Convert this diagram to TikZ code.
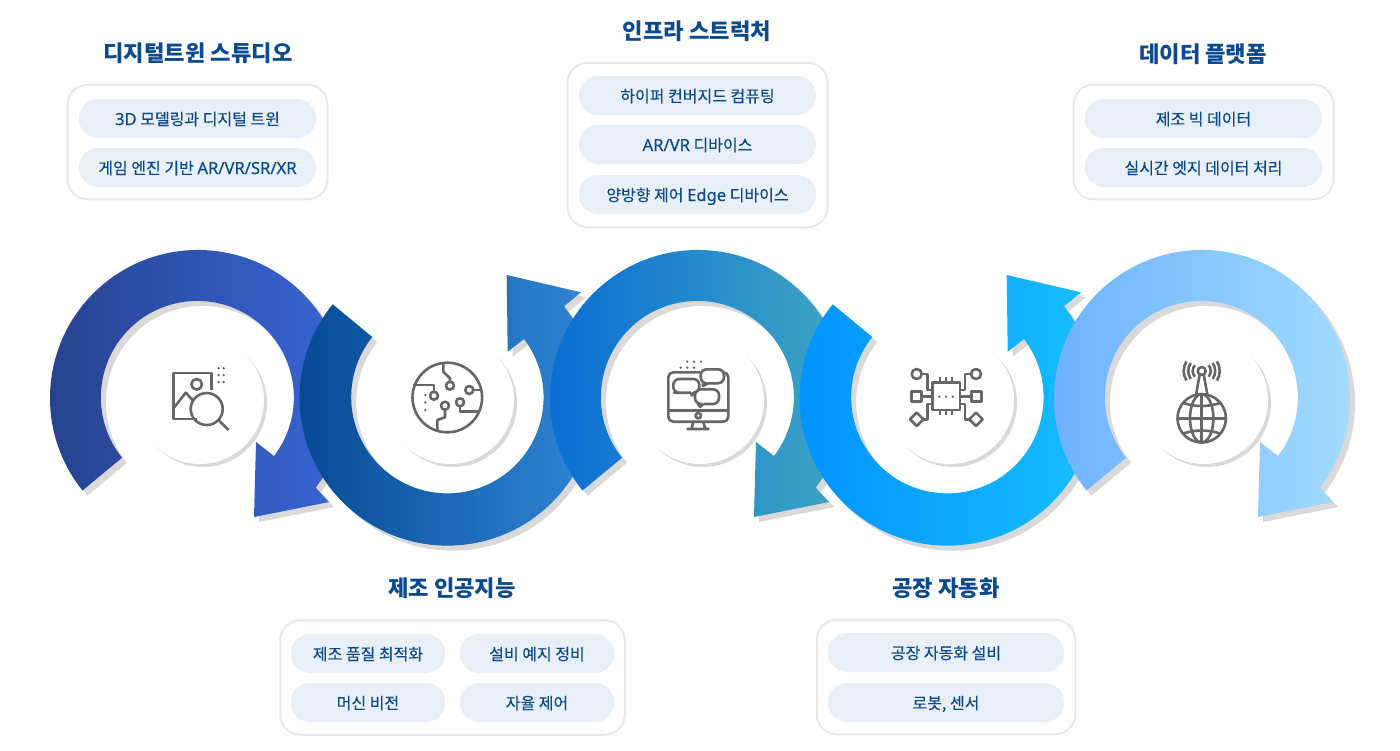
\documentclass[tikz,border=0pt]{standalone}
\usepackage{fontspec}
\setmainfont{Noto Sans CJK KR}
\newfontfamily\pillfont[FakeBold=0.25]{Noto Sans CJK KR}
\newfontfamily\latinfont[FakeBold=0.2]{Noto Sans}
\newcommand{\lat}[1]{{\latinfont\fontsize{16.6}{16}\selectfont #1}}
\definecolor{navy}{HTML}{0B4A8F}
\definecolor{pillc}{HTML}{E9EFF6}
\definecolor{cardb}{HTML}{E9E9E9}
\definecolor{shad}{HTML}{D9D9D9}
\definecolor{iconc}{HTML}{666666}
\tikzset{
  cardbox/.style={draw=cardb,line width=2pt,fill=white,rounded corners=20pt,minimum width=#1,minimum height=114.5pt,inner sep=0pt},
  pillbox/.style={fill=pillc,rounded corners=19pt,minimum height=39pt,minimum width=#1,inner sep=0pt,text=navy,font=\fontsize{16}{16}\pillfont,text height=15.5pt,text depth=2.5pt},
  titlebox/.style={text=navy,font=\fontsize{22.2}{22}\selectfont\bfseries,inner sep=0pt,text height=20pt,text depth=3pt},
  icon/.style={draw=iconc,line width=2.6pt,line join=round},
  dotf/.style={fill=iconc,draw=none},
  halo/.style={fill=shad,draw=none},
  disk/.style={fill=white,draw=none}
}
\newcommand{\pathA}{(82.5,490.5) arc[start angle=141.3,end angle=397.3,radius=148] -- (329,502) -- (254,517) -- (256,442) -- (274,456) arc[start angle=397.4,end angle=141.3,radius=96.5] -- cycle}
\newcommand{\pathB}{(332.7,304.3) arc[start angle=219.1,end angle=-38.1,radius=148] -- (581,292.3) -- (506.7,275) -- (507.7,351.7) -- (524,339) arc[start angle=-37.2,end angle=218.7,radius=96.2] -- cycle}
\newcommand{\ringA}[3]{%
  \fill[shad,shift={(#1+5,5)}] \pathA;
  \shade[shift={(#1,0)},left color=#2,right color=#3] \pathA;}
\newcommand{\ringB}[3]{%
  \fill[shad,shift={(#1+5,5)}] \pathB;
  \shade[shift={(#1,0)},left color=#2,right color=#3] \pathB;}
\newcommand{\diskat}[2]{%
  \fill[halo] (#1+3,#2+3) circle[radius=64];
  \fill[disk] (#1,#2) circle[radius=64];}
\definecolor{ra}{HTML}{25408A}\definecolor{rb}{HTML}{3A67D8}
\definecolor{rc}{HTML}{03468F}\definecolor{rd}{HTML}{3389D8}
\definecolor{re}{HTML}{066AD6}\definecolor{rf}{HTML}{42A8C2}
\definecolor{rg}{HTML}{0090FF}\definecolor{rh}{HTML}{19C0FF}
\definecolor{ri}{HTML}{6BB0FF}\definecolor{rj}{HTML}{A3DCFF}
\begin{document}
\begin{tikzpicture}[x=1pt,y=-1pt]
\useasboundingbox (0,0) rectangle (1400,750);
\fill[white] (0,0) rectangle (1400,750);
% disks
\diskat{200}{400}\diskat{450}{400}\diskat{700}{400}\diskat{950}{400}\diskat{1204}{400}
% rings
\ringA{0}{ra}{rb}
\ringB{0}{rc}{rd}
\ringA{500}{re}{rf}
\ringB{500}{rg}{rh}
\ringA{1004}{ri}{rj}
% icon 1
\draw[icon] (211.7,390) -- (211.7,373) -- (173.7,373) -- (173.7,419) -- (197,419);
\draw[icon] (196.7,384.3) circle[radius=5.3];
\draw[icon] (173.7,408) -- (185.7,392.7) -- (192.7,400);
\draw[icon] (206.7,409) circle[radius=16];
\draw[icon] (218.3,420) -- (228.7,430);
\foreach \x in {218.7,223.7}\foreach \y in {368.3,375,382}\fill[dotf] (\x,\y) circle[radius=1.3];
% icon 2
\draw[icon] (447.3,397.5) circle[radius=34.8];
\draw[icon] (443.3,363.3) -- (443.3,371.7) -- (450,378.3) -- (450,381.7);
\draw[icon] (450,385.7) circle[radius=4];
\draw[icon] (413.3,385) -- (434,385) -- (434,391.7);
\draw[icon] (434,395.7) circle[radius=4];
\draw[icon] (469.3,390) circle[radius=4];
\draw[icon] (473.3,390) -- (481.7,390);
\draw[icon] (445,405.7) circle[radius=4];
\draw[icon] (445,409.7) -- (445,417.3) -- (437.3,420) -- (437.3,430.7);
\draw[icon] (460,402.3) circle[radius=4];
\draw[icon] (460,406.3) -- (460,411.7) -- (478.3,411.7);
\foreach \y in {395,402.3,410}\fill[dotf] (425.3,\y) circle[radius=1.3];
% icon 3
\draw[icon] (700,372.3) -- (673.3,372.3) arc[start angle=270,end angle=180,radius=5] -- (668.3,416.7) arc[start angle=180,end angle=90,radius=5] -- (723.3,421.7) arc[start angle=90,end angle=0,radius=5] -- (728.3,377.3) arc[start angle=0,end angle=-90,radius=5];
\draw[icon] (668.3,410.7) -- (728.3,410.7);
\draw[icon] (698.3,415.7) circle[radius=2.7];
\draw[icon] (693.3,421.7) -- (691.5,429) (703.3,421.7) -- (705.1,429) (686.7,429) -- (709.3,429);
\draw[icon,rounded corners=6pt] (691,392.7) -- (680,392.7) -- (673.3,392.7) -- (673.3,379) -- (699.3,379) -- (699.3,392.7) -- (695,392.7);
\draw[icon] (691,392.7) -- (691.7,395.5) -- (695,392.7);
\draw[icon,rounded corners=6pt] (708,383.3) -- (724,383.3) -- (724,369.3) -- (700.7,369.3) -- (700.7,383.3) -- (703,383.3);
\draw[icon] (703,383.3) -- (703,386) -- (708,383.3);
\draw[icon,rounded corners=6pt] (703.5,404) -- (719,404) -- (719,389.3) -- (695,389.3) -- (695,404) -- (698,404);
\draw[icon] (698,404) -- (700,406.7) -- (703.5,404);
\foreach \p in {(687.3,361.7),(694,361.7),(701,361.7),(680.7,367.7),(687.3,367.7),(694,367.7)}\fill[dotf] \p circle[radius=1.3];
% icon 4
\draw[icon] (932.7,382.7) rectangle (960,410);
\foreach \x in {940,946,952}\draw[icon] (\x,377.3) -- (\x,382.7) (\x,410) -- (\x,415.3);
\draw[icon] (911.7,391.7) rectangle (921.7,401.7);
\draw[icon] (971.7,391.7) rectangle (981.3,401.7);
\draw[icon] (921.7,396.7) -- (932.7,396.7) (960,396.7) -- (971.7,396.7);
\draw[icon] (916.7,374) circle[radius=5];
\draw[icon] (976,374) circle[radius=5];
\draw[icon] (921.7,374) -- (927.3,374) -- (927.3,390) -- (932.7,390);
\draw[icon] (971,374) -- (965,374) -- (965,390) -- (960,390);
\draw[icon] (916.7,412.6) -- (923.4,419.3) -- (916.7,426) -- (910,419.3) -- cycle;
\draw[icon] (976,412.6) -- (982.7,419.3) -- (976,426) -- (969.3,419.3) -- cycle;
\draw[icon] (923.3,419.3) -- (927.3,419.3) -- (927.3,404) -- (932.7,404);
\draw[icon] (969.3,419.3) -- (965,419.3) -- (965,404) -- (960,404);
\foreach \x in {939.3,946,952.7}\fill[dotf] (\x,396.7) circle[radius=1.3];
% icon 5
\draw[icon] (1201.7,418.3) circle[radius=24.2];
\draw[icon] (1201.7,418.3) ellipse[x radius=11.7,y radius=24.2];
\draw[icon] (1201.7,394.1) -- (1201.7,442.5) (1177.5,418.3) -- (1225.9,418.3);
\draw[icon] (1183.5,403) .. controls (1195,407) and (1208,407) .. (1220,403);
\draw[icon] (1183.5,433.5) .. controls (1195,429.5) and (1208,429.5) .. (1220,433.5);
\draw[icon] (1201.7,371) circle[radius=4];
\draw[icon] (1199.6,375) -- (1196,395) (1203.8,375) -- (1207.4,395);
\foreach \r/\a in {9/40,13.5/36,18/32}{
  \draw[icon] (1201.7,371) ++(180+\a:\r) arc[start angle=180+\a,end angle=180-\a,radius=\r];
  \draw[icon] (1201.7,371) ++(-\a:\r) arc[start angle=-\a,end angle=\a,radius=\r];
}
% cards
\node[cardbox=260pt] (card1) at (197.5,142) {};
\node[cardbox=260pt,minimum height=164.5pt] (card2) at (697.5,145) {};
\node[cardbox=260pt] (card3) at (1203.5,142) {};
\node[cardbox=344.5pt] (card4) at (452.5,677.5) {};
\node[cardbox=258.5pt] (card5) at (946,677) {};
% titles
\node[titlebox] (t1) at (198,53) {디지털트윈 스튜디오};
\node[titlebox] (t2) at (697,31) {인프라 스트럭처};
\node[titlebox] (t3) at (1203,54) {데이터 플랫폼};
\node[titlebox] (t4) at (452,588) {제조 인공지능};
\node[titlebox] (t5) at (946,588) {공장 자동화};
% pills
\node[pillbox=237pt] (p11) at (197.5,118.5) {\lat{3D} 모델링과 디지털 트윈};
\node[pillbox=237pt] (p12) at (197.5,167.5) {게임 엔진 기반 \lat{AR/VR/SR/XR}};
\node[pillbox=237pt] (p21) at (697.5,95.5) {하이퍼 컨버지드 컴퓨팅};
\node[pillbox=237pt] (p22) at (697.5,144.5) {\lat{AR/VR} 디바이스};
\node[pillbox=237pt] (p23) at (697.5,194.5) {양방향 제어 \lat{Edge} 디바이스};
\node[pillbox=237pt] (p31) at (1203.5,118.5) {제조 빅 데이터};
\node[pillbox=237pt] (p32) at (1203.5,167.5) {실시간 엣지 데이터 처리};
\node[pillbox=154pt] (p41) at (368,653.5) {제조 품질 최적화};
\node[pillbox=154pt] (p42) at (537,653.5) {설비 예지 정비};
\node[pillbox=154pt] (p43) at (368,702.5) {머신 비전};
\node[pillbox=154pt] (p44) at (537,702.5) {자율 제어};
\node[pillbox=236pt] (p51) at (946,652.5) {공장 자동화 설비};
\node[pillbox=236pt] (p52) at (946,702.5) {로봇, 센서};
\end{tikzpicture}
\end{document}
